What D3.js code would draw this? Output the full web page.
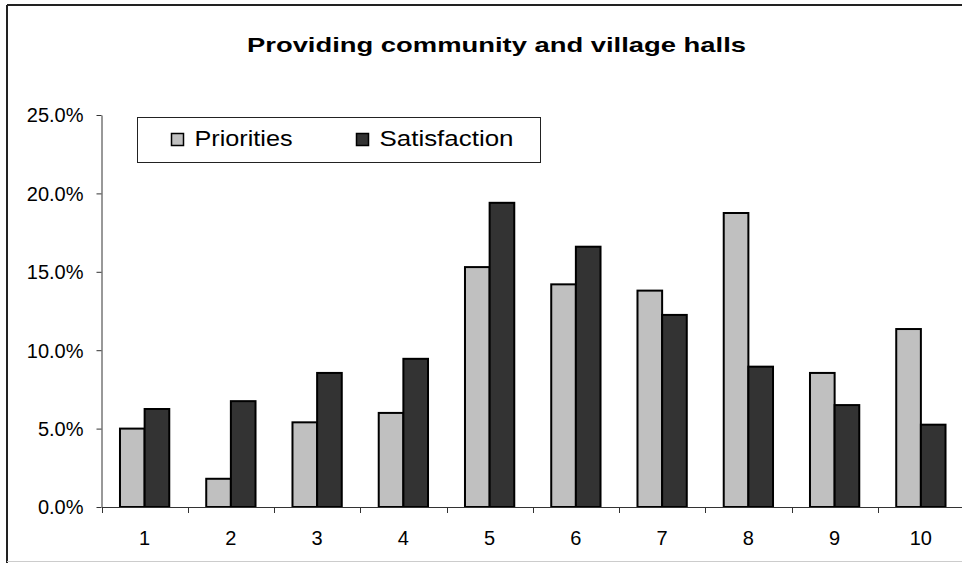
<!DOCTYPE html>
<html>
<head>
<meta charset="utf-8">
<script src="https://cdn.jsdelivr.net/npm/d3@7"></script>
<style>
  html, body { margin: 0; padding: 0; background: #fff; }
  svg { display: block; font-family: "Liberation Sans", Arial, sans-serif; }
</style>
</head>
<body>
<svg id="chart" width="962" height="563"></svg>
<script>
const categories = ["1", "2", "3", "4", "5", "6", "7", "8", "9", "10"];
const seriesNames = ["Priorities", "Satisfaction"];
const priorities = [5.0, 1.8, 5.4, 6.0, 15.3, 14.2, 13.8, 18.75, 8.55, 11.35];
const satisfaction = [6.25, 6.75, 8.55, 9.45, 19.4, 16.6, 12.25, 8.95, 6.5, 5.25];
const yTicks = [0, 5, 10, 15, 20, 25];
const title = "Providing community and village halls";
const colors = { "Priorities": "#c0c0c0", "Satisfaction": "#333333" };

const svg = d3.select("#chart");

// outer chart border
svg.append("line").attr("x1", 7).attr("x2", 962).attr("y1", 5).attr("y2", 5)
  .attr("stroke", "#222").attr("stroke-width", 2);
svg.append("line").attr("x1", 7).attr("x2", 7).attr("y1", 5).attr("y2", 563)
  .attr("stroke", "#222").attr("stroke-width", 2);
svg.append("line").attr("x1", 7).attr("x2", 962).attr("y1", 561.5).attr("y2", 561.5)
  .attr("stroke", "#cccccc").attr("stroke-width", 1);

// title
svg.append("text")
  .attr("x", 496.5).attr("y", 52)
  .attr("text-anchor", "middle")
  .attr("font-size", 21).attr("font-weight", "bold")
  .attr("textLength", 499).attr("lengthAdjust", "spacingAndGlyphs")
  .attr("fill", "#000")
  .text(title);

const x = d3.scaleBand().domain(categories).range([101.5, 964]).paddingInner(0).paddingOuter(0);
const x1 = d3.scaleBand().domain(seriesNames).range([0, x.bandwidth()]).paddingInner(0).paddingOuter(0.75);
const y = d3.scaleLinear().domain([0, 25]).range([507, 115]);

const data = categories.map((c, i) => ({ cat: c, values: [
  { name: "Priorities", value: priorities[i] },
  { name: "Satisfaction", value: satisfaction[i] }
]}));

// bars
const groups = svg.append("g").selectAll("g").data(data).join("g")
  .attr("transform", d => `translate(${x(d.cat)},0)`);
groups.selectAll("rect").data(d => d.values).join("rect")
  .attr("x", d => x1(d.name))
  .attr("width", x1.bandwidth())
  .attr("y", d => y(d.value))
  .attr("height", d => y(0) - y(d.value))
  .attr("fill", d => colors[d.name])
  .attr("stroke", "#000").attr("stroke-width", 2);

// y axis
const yAxis = svg.append("g")
  .attr("transform", "translate(101.5,0)")
  .call(d3.axisLeft(y).tickValues(yTicks).tickFormat(d => d.toFixed(1) + "%")
    .tickSize(5).tickSizeOuter(0).tickPadding(13));
yAxis.select(".domain").attr("stroke", "#333");
yAxis.selectAll(".tick line").attr("stroke", "#333");
yAxis.selectAll(".tick text").attr("font-size", 20).attr("fill", "#000")
  .attr("font-family", "Liberation Sans, Arial, sans-serif").attr("dy", "0.34em");

// x axis
const xAxis = svg.append("g")
  .attr("transform", "translate(0,507)")
  .call(d3.axisBottom(x).tickSize(0).tickSizeOuter(0).tickPadding(0));
xAxis.select(".domain").attr("stroke", "#333");
xAxis.selectAll(".tick text").attr("font-size", 20).attr("fill", "#000")
  .attr("font-family", "Liberation Sans, Arial, sans-serif")
  .attr("y", 38).attr("dy", 0);
// tick marks between categories
const boundaries = categories.map(c => x(c)).concat([x.range()[1]]);
xAxis.selectAll("line.sep").data(boundaries).join("line")
  .attr("class", "sep")
  .attr("x1", d => Math.round(d) + 0.5).attr("x2", d => Math.round(d) + 0.5)
  .attr("y1", 0).attr("y2", 6)
  .attr("stroke", "#333");

// legend
const legend = svg.append("g");
legend.append("rect")
  .attr("x", 137.5).attr("y", 117.5).attr("width", 403).attr("height", 45)
  .attr("fill", "#fff").attr("stroke", "#222").attr("stroke-width", 1);
const legendItems = [
  { name: "Priorities", sx: 171.5, tx: 194.5, len: 98 },
  { name: "Satisfaction", sx: 356.5, tx: 379.5, len: 134 }
];
legendItems.forEach(it => {
  legend.append("rect")
    .attr("x", it.sx).attr("y", 133.5).attr("width", 12).attr("height", 12)
    .attr("fill", colors[it.name]).attr("stroke", "#000").attr("stroke-width", 1.5);
  legend.append("text")
    .attr("x", it.tx).attr("y", 146)
    .attr("font-size", 22).attr("fill", "#000")
    .attr("textLength", it.len).attr("lengthAdjust", "spacingAndGlyphs")
    .text(it.name);
});
</script>
</body>
</html>
